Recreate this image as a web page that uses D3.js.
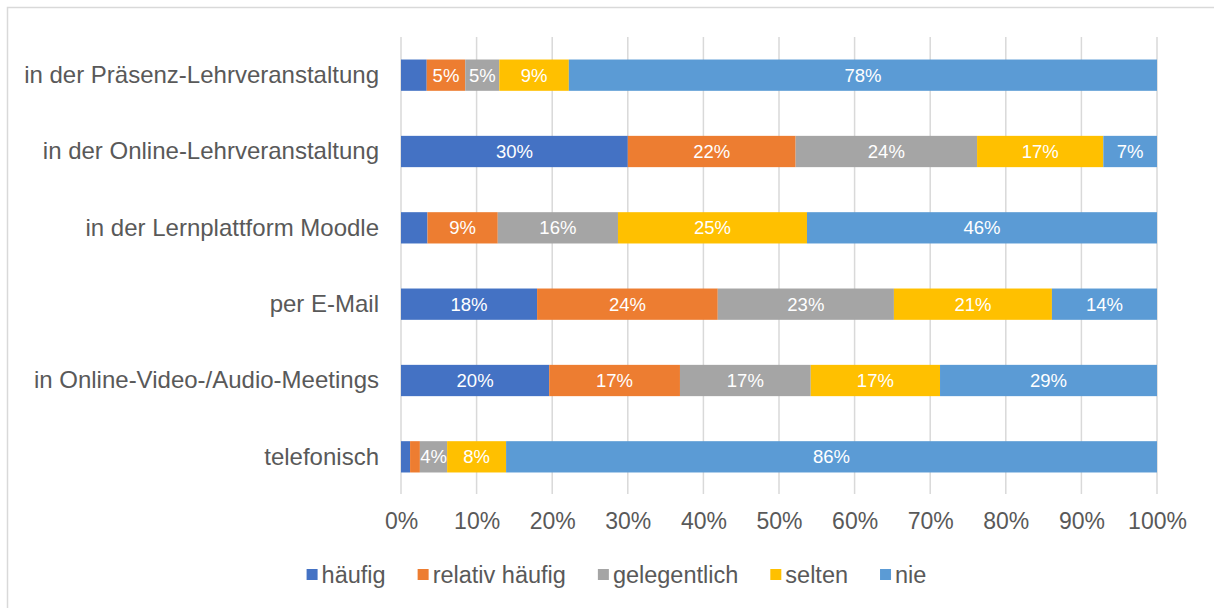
<!DOCTYPE html>
<html>
<head>
<meta charset="utf-8">
<script src="https://cdn.jsdelivr.net/npm/d3@7"></script>
<style>
  body { margin: 0; background: #fff; }
  svg { display: block; font-family: "Liberation Sans", Arial, sans-serif; }
</style>
</head>
<body>
<svg id="chart" width="1214" height="608"></svg>
<script>
// Categories (top to bottom)
var categories = [
	"in der Präsenz-Lehrveranstaltung",
	"in der Online-Lehrveranstaltung",
	"in der Lernplattform Moodle",
	"per E-Mail",
	"in Online-Video-/Audio-Meetings",
	"telefonisch"
];

// Series names and values (percent)
var seriesNames = ["häufig", "relativ häufig", "gelegentlich", "selten", "nie"];
var haeufig      = [3.4, 30.0, 3.5, 18.0, 19.6, 1.2];
var relativ      = [5.1, 22.2, 9.3, 23.9, 17.3, 1.3];
var gelegentlich = [4.5, 24.0, 15.9, 23.3, 17.3, 3.6];
var selten       = [9.2, 16.7, 25.0, 20.9, 17.1, 7.8];
var nie          = [77.8, 7.1, 46.3, 13.9, 28.7, 86.1];

var xTicks = [0, 10, 20, 30, 40, 50, 60, 70, 80, 90, 100];

var colors = ["#4472C4", "#ED7D31", "#A5A5A5", "#FFC000", "#5B9BD5"];

// Build rows for stacking
var seriesValues = [haeufig, relativ, gelegentlich, selten, nie];
var rows = categories.map((c, i) => {
	let r = { cat: c };
	seriesNames.forEach((s, j) => { r[s] = seriesValues[j][i]; });
	return r;
});

var svg = d3.select("#chart");

// Outer chart border
svg.append("rect")
	.attr("x", 7.5).attr("y", 7.5)
	.attr("width", 1240).attr("height", 640)
	.attr("fill", "none")
	.attr("stroke", "#d9d9d9")
	.attr("stroke-width", 1.5);

// Scales
var x = d3.scaleLinear().domain([0, 100]).range([401, 1157]);
var y = d3.scaleBand().domain(categories).range([37, 495])
	.paddingInner(0.59).paddingOuter(0.295);
var color = d3.scaleOrdinal().domain(seriesNames).range(colors);

// Gridlines
svg.append("g")
	.selectAll("line")
	.data(xTicks)
	.enter()
	.append("line")
	.attr("x1", d => x(d)).attr("x2", d => x(d))
	.attr("y1", 37).attr("y2", 494)
	.attr("stroke", "#d9d9d9")
	.attr("stroke-width", 1.5);

// Stacked bars
var stack = d3.stack().keys(seriesNames)(rows);

var layers = svg.append("g")
	.selectAll("g")
	.data(stack)
	.enter()
	.append("g")
	.attr("fill", d => color(d.key));

layers.selectAll("rect")
	.data(d => d)
	.enter()
	.append("rect")
	.attr("x", d => x(d[0]))
	.attr("width", d => x(d[1]) - x(d[0]))
	.attr("y", d => y(d.data.cat))
	.attr("height", y.bandwidth());

// Value labels (small segments have no label)
layers.selectAll("text")
	.data(d => d.filter(s => (s[1] - s[0]) >= 3.55))
	.enter()
	.append("text")
	.attr("x", d => (x(d[0]) + x(d[1])) / 2)
	.attr("y", d => y(d.data.cat) + y.bandwidth() / 2)
	.attr("dy", "0.36em")
	.attr("text-anchor", "middle")
	.attr("fill", "#fff")
	.style("font-size", "18.5px")
	.text(d => Math.round(d[1] - d[0]) + "%");

// Category labels
var yAxis = d3.axisLeft(y).tickSize(0).tickPadding(0);
svg.append("g")
	.attr("transform", "translate(379,0)")
	.call(yAxis)
	.call(g => g.select(".domain").remove())
	.selectAll("text")
	.attr("fill", "#595959")
	.style("font-size", "24px")
	.style("font-family", "'Liberation Sans', Arial, sans-serif");

// X axis labels
var xAxis = d3.axisBottom(x).tickValues(xTicks).tickSize(0).tickPadding(0)
	.tickFormat(d => d + "%");
svg.append("g")
	.attr("transform", "translate(0,513)")
	.call(xAxis)
	.call(g => g.select(".domain").remove())
	.selectAll("text")
	.attr("fill", "#595959")
	.style("font-size", "23px")
	.style("font-family", "'Liberation Sans', Arial, sans-serif");

// Legend
var legend = svg.append("g");
var items = legend.selectAll("g")
	.data(seriesNames)
	.enter()
	.append("g");

items.append("rect")
	.attr("width", 11).attr("height", 11)
	.attr("y", -6)
	.attr("fill", d => color(d));

items.append("text")
	.attr("x", 15)
	.attr("dy", "0.36em")
	.attr("fill", "#595959")
	.style("font-size", "23.5px")
	.text(d => d);

var gap = 32;
var pos = 0;
items.each(function() {
	let w = 15 + this.querySelector("text").getComputedTextLength();
	this._x = pos;
	pos += w + gap;
});
var totalW = pos - gap;
var startX = 616.5 - totalW / 2;
items.attr("transform", function() { return "translate(" + (startX + this._x) + ",575)"; });
</script>
</body>
</html>
